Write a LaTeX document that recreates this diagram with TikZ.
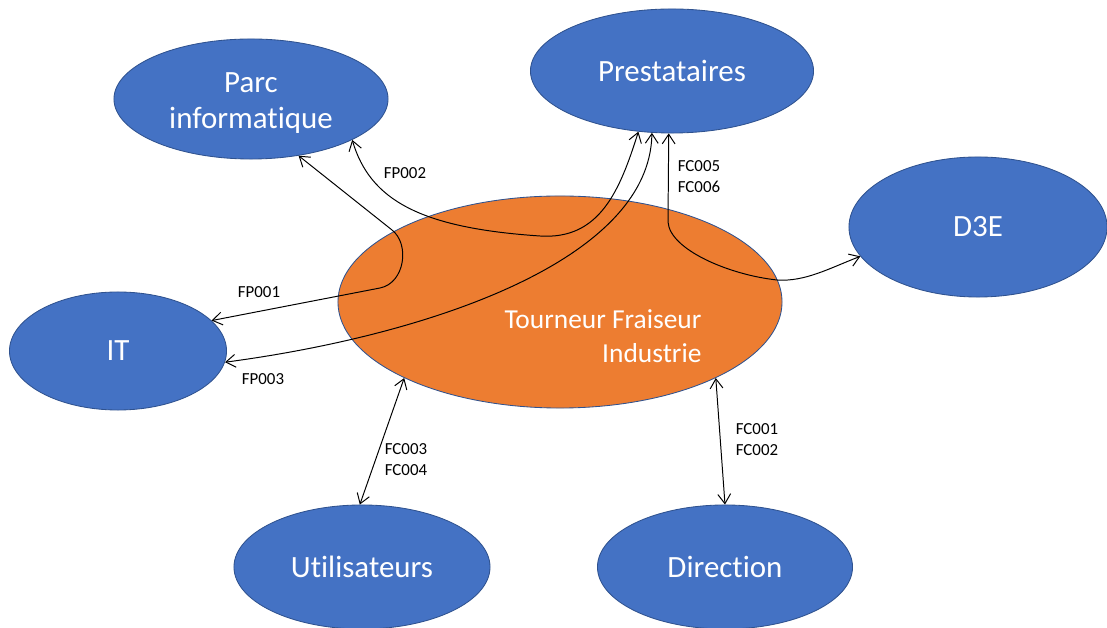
\documentclass[tikz,border=0pt]{standalone}
\usepackage{fontspec}
\setmainfont{Carlito}[Ligatures=NoCommon]
\usetikzlibrary{shapes.geometric,arrows.meta}
\definecolor{bubfill}{HTML}{4472C4}
\definecolor{bubline}{HTML}{2F528F}
\definecolor{corefill}{HTML}{ED7D31}
\begin{document}
\begin{tikzpicture}[x=0.025cm,y=-0.025cm,
  bub/.style={ellipse, draw=bubline, line width=0.6pt, fill=bubfill, inner sep=0pt,
              text=white, font=\fontsize{22}{26}\selectfont, align=center},
  bubtext/.style={text=white, font=\fontsize{22}{26}\selectfont, align=center, inner sep=0pt},
  core/.style={ellipse, draw=bubline, line width=0.6pt, fill=corefill, inner sep=0pt},
  coretext/.style={text=white, font=\fontsize{19.5}{24}\selectfont, align=right, inner sep=0pt},
  lbl/.style={font=\fontsize{12}{15}\selectfont, align=left, inner sep=0pt},
  link/.style={{Straight Barb[length=2.4mm,width=3.2mm]}-{Straight Barb[length=2.4mm,width=3.2mm]}, line width=0.7pt},
]
\useasboundingbox (0,0) rectangle (1107,628);
% ellipses
\node[core, minimum width=11.1cm, minimum height=5.3cm] (tfi) at (560,302) {};
\node[coretext] (tfit) at (603,336) {Tourneur Fraiseur\\Industrie};
\node[bub, minimum width=6.85cm, minimum height=3.0cm] (parc) at (251,99) {};
\node[bubtext] (parct) at (251,103) {Parc\\informatique};
\node[bub, minimum width=7.075cm, minimum height=3.1cm] (presta) at (672,71) {Prestataires};
\node[bub, minimum width=6.45cm, minimum height=3.5cm] (d3e) at (978,227) {D3E};
\node[bub, minimum width=5.425cm, minimum height=2.95cm] (it) at (118,351) {IT};
\node[bub, minimum width=6.4cm, minimum height=3.1cm] (util) at (362,567) {Utilisateurs};
\node[bub, minimum width=6.375cm, minimum height=3.1cm] (dir) at (725,567) {Direction};
% connectors
\draw[link] (parc.-50) -- (392,230) .. controls (410,244) and (405,283) .. (380,288) -- (it.18);
\draw[link] (parc.-22.5) .. controls (370,200) and (420,228) .. (540,236) .. controls (600,240) and (620,190) .. (presta.-119);
\draw[link] (it.-6) .. controls (430,335) and (650,260) .. (presta.-108);
\draw[link] (presta.-93.5) -- (668,222) .. controls (670,250) and (730,275) .. (777,280) .. controls (805,282) and (830,268) .. (d3e.-166);
\draw[link] (tfi.-154) -- (util.92);
\draw[link] (tfi.-26) -- (dir.90);
% labels
\node[lbl] (l1) at (259,292) {FP001};
\node[lbl] (l2) at (405,173) {FP002};
\node[lbl] (l3) at (263,379) {FP003};
\node[lbl] (l4) at (699,177) {FC005\\FC006};
\node[lbl] (l5) at (406,460) {FC003\\FC004};
\node[lbl] (l6) at (757,440) {FC001\\FC002};
\end{tikzpicture}
\end{document}
